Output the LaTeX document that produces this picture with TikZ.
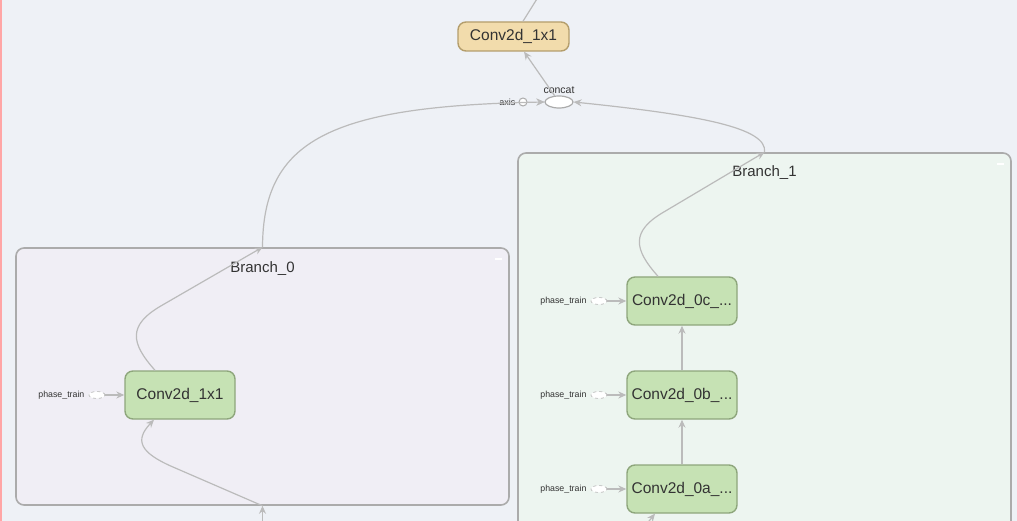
\documentclass[tikz,border=0pt]{standalone}
\usepackage{fontspec}
\setmainfont{Liberation Sans}
\usetikzlibrary{shapes, arrows.meta, calc, positioning}

\definecolor{bgcol}{HTML}{EEF1F6}
\definecolor{grpzero}{HTML}{F0EEF5}
\definecolor{grpone}{HTML}{EDF5F0}
\definecolor{grpline}{HTML}{ABABAB}
\definecolor{opfill}{HTML}{C6E2B4}
\definecolor{opline}{HTML}{8EA67C}
\definecolor{metafill}{HTML}{F2DCAC}
\definecolor{metaline}{HTML}{B49E6C}
\definecolor{edgecol}{HTML}{BBBBBB}
\definecolor{txt}{HTML}{333333}

\begin{document}
\begin{tikzpicture}[x=1pt, y=-1pt, >={Stealth[length=8pt,width=7pt]}, node distance=44.6pt]
	\tikzstyle{group} = [draw=grpline, line width=1.6pt, rounded corners=8pt, inner sep=0pt]
	\tikzstyle{grouplabel} = [text=txt, font=\fontsize{15}{18}\selectfont, inner sep=0pt]
	\tikzstyle{op} = [draw=opline, line width=1.4pt, rounded corners=8pt, fill=opfill, minimum width=110pt, minimum height=48pt, inner sep=0pt, text=txt, font=\fontsize{15.5}{18}\selectfont]
	\tikzstyle{metaop} = [op, fill=metafill, draw=metaline, minimum width=111pt, minimum height=29pt]
	\tikzstyle{feed} = [ellipse, draw=edgecol, dashed, fill=white, line width=0.7pt, minimum width=16pt, minimum height=7pt, inner sep=0pt]
	\tikzstyle{small} = [text=txt, font=\fontsize{8.8}{10}\selectfont, inner sep=1pt]
	\tikzstyle{edge} = [draw=edgecol, line width=1.2pt]

	\clip (0,0) rectangle (1017,521);
	\fill[bgcol] (0,0) rectangle (1017,521);
	\draw[red!35, line width=1.5pt] (0.75,0) -- (0.75,521);

	% groups
	\node[group, fill=grpzero, minimum width=493pt, minimum height=257pt] (b0) at (262.5,376.5) {};
	\node[group, fill=grpone, minimum width=493pt, minimum height=407pt] (b1) at (764.5,356.5) {};
	\node[grouplabel] (l0) at (262.5,269) {Branch\_0};
	\node[grouplabel] (l1) at (764.5,173) {Branch\_1};
	\draw[white, line width=1.5pt] (495,259) -- (502,259);
	\draw[white, line width=1.5pt] (997,164) -- (1004,164);

	% top part
	\node[metaop] (conv) at (513.5,36.5) {Conv2d\_1x1};
	\node[ellipse, draw=grpline, fill=white, line width=1.2pt, minimum width=28pt, minimum height=12pt, inner sep=0pt] (concat) at (559,102) {};
	\node[small, font=\fontsize{10.5}{12}\selectfont, above=1pt of concat] (cl) {concat};
	\node[circle, draw=grpline, fill=white, line width=1pt, minimum size=8pt, inner sep=0pt] (axis) at (523,102) {};
	\node[small, font=\fontsize{9}{10}\selectfont, left=2pt of axis] (al) {axis};
	\coordinate (out) at (540,-6);

	% branch 0
	\node[op] (c1x1) at (180,395) {Conv2d\_1x1};
	\node[feed, left=19pt of c1x1] (pt0) {};
	\node[small, left=3pt of pt0] (ptl0) {phase\_train};
	\coordinate (in0) at (262.5,530);

	% branch 1
	\node[op] (c0a) at (682,489) {Conv2d\_0a\_...};
	\node[op, above=of c0a] (c0b) {Conv2d\_0b\_...};
	\node[op, above=of c0b] (c0c) {Conv2d\_0c\_...};
	\node[feed, left=19pt of c0a] (pt1a) {};
	\node[feed, left=19pt of c0b] (pt1b) {};
	\node[feed, left=19pt of c0c] (pt1c) {};
	\node[small, left=3pt of pt1a] (ptl1a) {phase\_train};
	\node[small, left=3pt of pt1b] (ptl1b) {phase\_train};
	\node[small, left=3pt of pt1c] (ptl1c) {phase\_train};
	\coordinate (in1) at (645,526);

	% edges
	\draw[edge] (conv) -- (out);
	\draw[edge, ->] (concat) -- (conv);
	\draw[draw=edgecol, line width=0.7pt, double=bgcol, double distance=1.2pt, ->] (axis) -- (concat);
	\draw[edge, ->] (b0.north) .. controls (263,140) and (330,106) .. (concat.west);
	\draw[edge, ->] (b1.north) .. controls (768,128) and (700,115) .. (concat.east);

	\draw[edge, ->] ([xshift=-25pt]c1x1.north) .. controls +(-24,-27) and +(-35,20) .. ++(7,-65) -- (b0.north);
	\draw[edge, ->] (in0) -- (b0.south);
	\draw[edge, ->] (b0.south) -- ++(-90,-39) .. controls +(-32,-14) and +(-20,21) .. ([xshift=-26pt]c1x1.south);
	\draw[edge, ->] (pt0) -- (c1x1);

	\draw[edge, ->] ([xshift=-24pt]c0c.north) .. controls +(-24,-27) and +(-35,20) .. ++(7,-65) -- (b1.north);
	\draw[edge, ->] (c0a) -- (c0b);
	\draw[edge, ->] (c0b) -- (c0c);
	\draw[edge, ->] (in1) -- ([xshift=-27pt]c0a.south);
	\draw[edge, ->] (pt1a) -- (c0a);
	\draw[edge, ->] (pt1b) -- (c0b);
	\draw[edge, ->] (pt1c) -- (c0c);
\end{tikzpicture}
\end{document}
